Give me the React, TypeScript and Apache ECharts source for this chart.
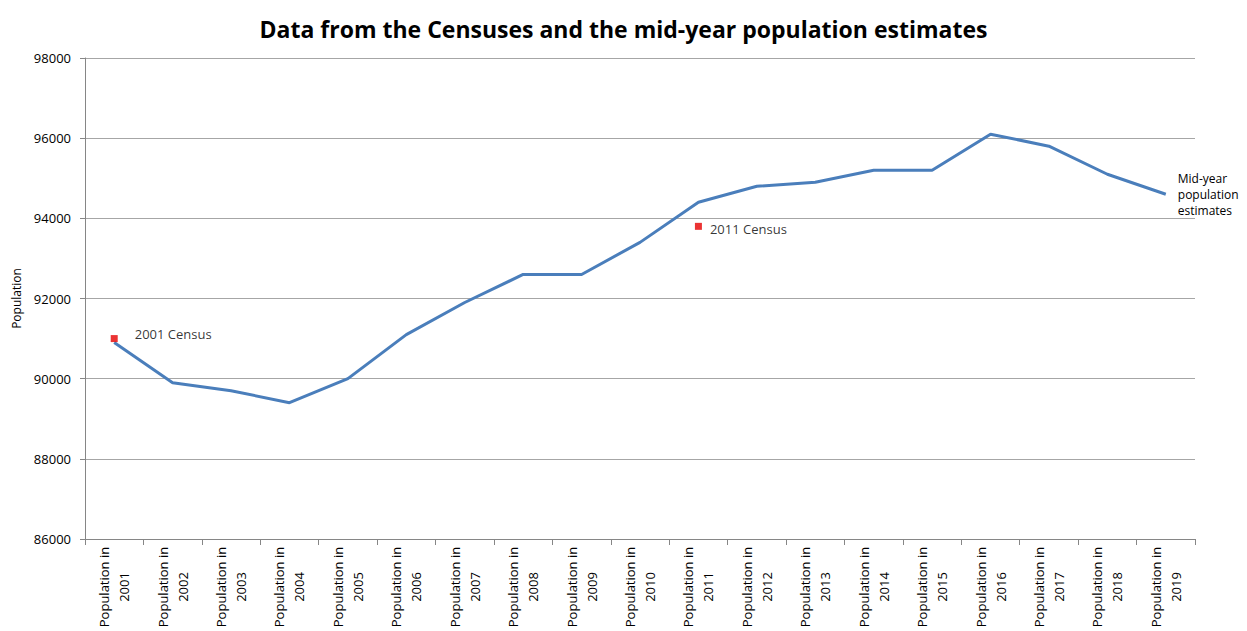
import React, { useEffect, useRef } from "react";
import * as echarts from "echarts";

const years = ["2001","2002","2003","2004","2005","2006","2007","2008","2009","2010","2011","2012","2013","2014","2015","2016","2017","2018","2019"];
const categories = years.map((y) => "Population in\n" + y);
const midYear = [90900, 89900, 89700, 89400, 90000, 91100, 91900, 92600, 92600, 93400, 94400, 94800, 94900, 95200, 95200, 96100, 95800, 95100, 94600];
const census = [91000, null, null, null, null, null, null, null, null, null, 93800, null, null, null, null, null, null, null, null];
const censusLabels: Record<number, string> = { 0: "2001 Census", 10: "2011 Census" };
const yTicks = { min: 86000, max: 98000, interval: 2000 };

const FONT = "'Open Sans', 'Noto Sans', sans-serif";
// label placement tweaks per census point (style only)
const censusLabelOffsets: Record<number, number[]> = { 0: [9, -5], 10: [0, 3] };

export default function App() {
  const ref = useRef<HTMLDivElement>(null);
  useEffect(() => {
    if (!ref.current) return;
    const chart = echarts.init(ref.current, null, { renderer: "svg" });
    const censusData = census.map((v, i) =>
      v == null
        ? null
        : {
            value: v,
            label: {
              show: true,
              position: "right",
              distance: 8,
              offset: censusLabelOffsets[i] || [0, 0],
              formatter: censusLabels[i] || "",
            },
          }
    );
    chart.setOption({
      animation: false,
      backgroundColor: "#ffffff",
      title: {
        text: "Data from the Censuses and the mid-year population estimates",
        left: "center",
        top: 12,
        textStyle: { fontFamily: FONT, fontWeight: "bold", fontSize: 23, color: "#000" },
      },
      grid: { left: 85, right: 52, top: 58, bottom: 92 },
      xAxis: {
        type: "category",
        data: categories,
        boundaryGap: true,
        axisLine: { lineStyle: { color: "#868686", width: 1 } },
        axisTick: { show: true, length: 6, lineStyle: { color: "#868686" } },
        axisLabel: {
          interval: 0,
          rotate: 90,
          align: "center",
          verticalAlign: "middle",
          margin: 48,
          fontFamily: FONT,
          fontSize: 13,
          lineHeight: 20,
          color: "#000",
        },
      },
      yAxis: {
        type: "value",
        min: yTicks.min,
        max: yTicks.max,
        interval: yTicks.interval,
        name: "Population",
        nameLocation: "middle",
        nameGap: 62,
        nameTextStyle: { fontFamily: FONT, fontSize: 12, color: "#000" },
        axisLine: { show: true, lineStyle: { color: "#868686" } },
        axisTick: { show: true, length: 5, lineStyle: { color: "#868686" } },
        axisLabel: {
          fontFamily: FONT,
          fontSize: 13,
          color: "#000",
          margin: 14,
          formatter: (v: number) => String(v),
        },
        splitLine: { show: true, lineStyle: { color: "#a6a6a6", width: 1 } },
      },
      series: [
        {
          name: "Mid-year population estimates",
          type: "line",
          data: midYear,
          symbol: "none",
          lineStyle: { color: "#4a7ebb", width: 3 },
          itemStyle: { color: "#4a7ebb" },
          endLabel: {
            show: true,
            formatter: "Mid-year\npopulation\nestimates",
            distance: 12,
            fontFamily: FONT,
            fontSize: 12,
            lineHeight: 16,
            color: "#000",
            align: "left",
          },
          z: 2,
        },
        {
          name: "Census",
          type: "scatter",
          data: censusData,
          symbol: "rect",
          symbolSize: 7,
          itemStyle: { color: "#e60000" },
          label: {
            fontFamily: FONT,
            fontSize: 13,
            color: "#000",
          },
          z: 3,
        },
      ],
    });
    return () => chart.dispose();
  }, []);
  return (
    <div
      ref={ref}
      style={{ position: "absolute", left: 0, top: 0, width: 1247, height: 631 }}
    />
  );
}
